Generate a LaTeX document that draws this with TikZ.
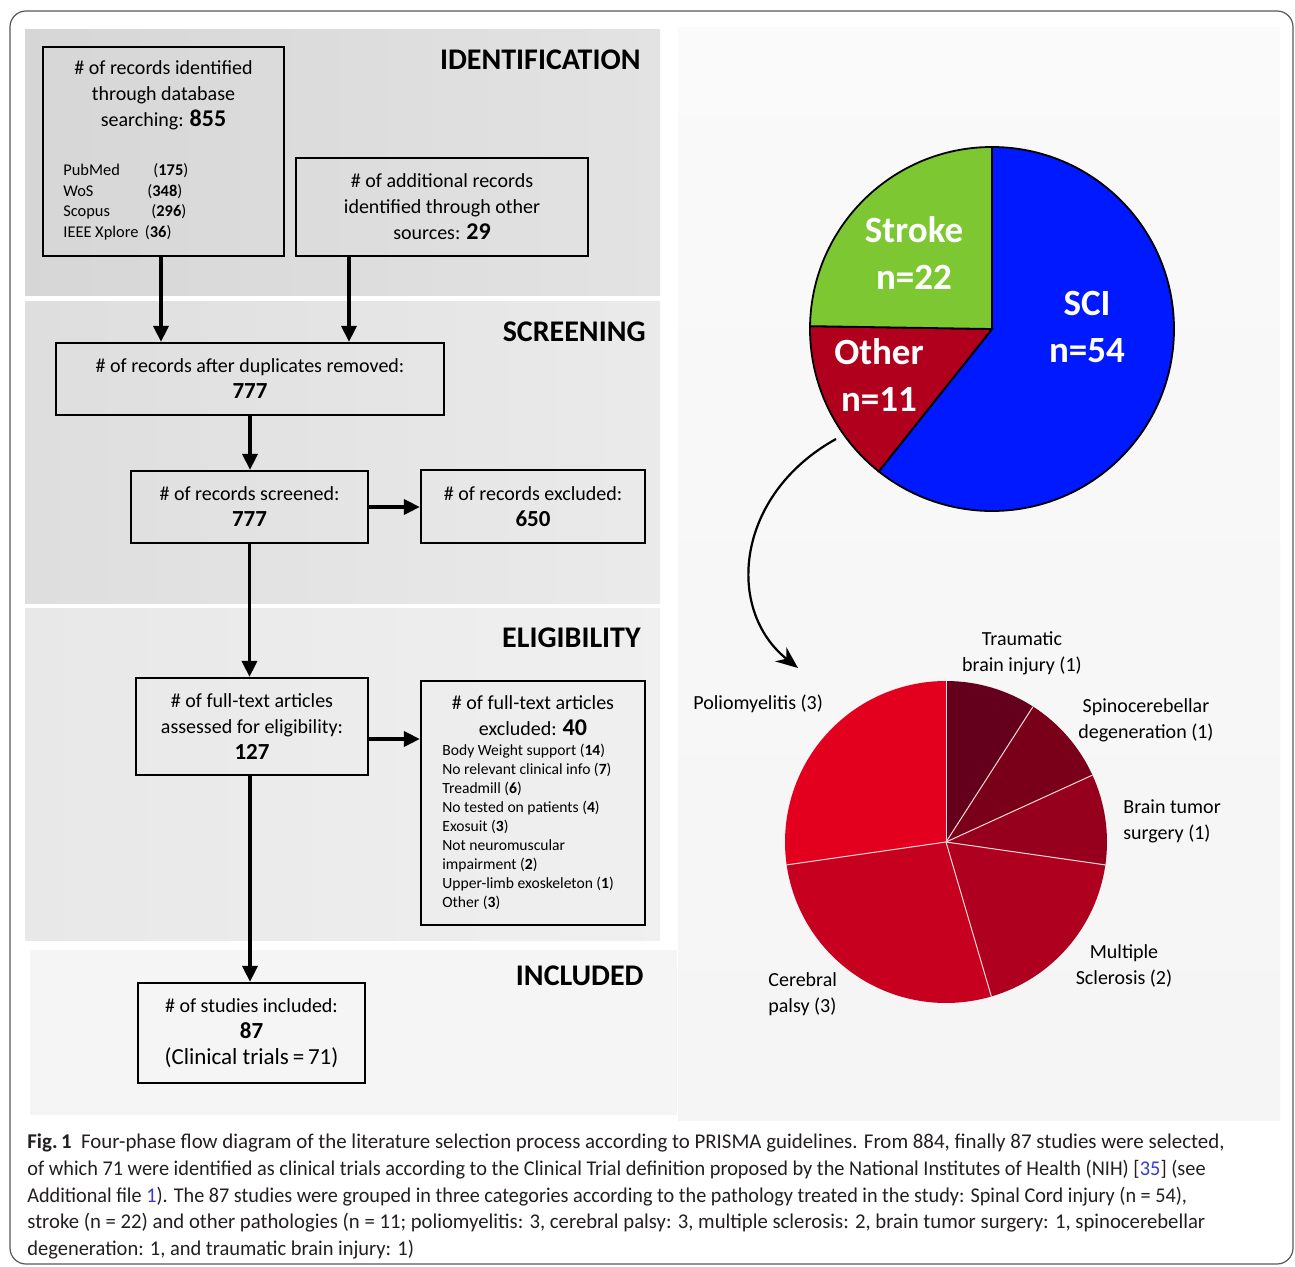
\documentclass[tikz,border=0pt]{standalone}
\usepackage{fontspec}
\usepackage{graphicx}
\setmainfont{Carlito}
\usetikzlibrary{arrows.meta}
\definecolor{sciblue}{HTML}{0019FF}
\definecolor{strokegreen}{HTML}{7DC832}
\definecolor{otherred}{HTML}{B0001E}
\definecolor{tbi}{HTML}{64001C}
\definecolor{spino}{HTML}{7A0019}
\definecolor{btumor}{HTML}{96001C}
\definecolor{msred}{HTML}{AF001F}
\definecolor{cpred}{HTML}{C8001F}
\definecolor{polio}{HTML}{E2001E}
\definecolor{capgray}{HTML}{231F20}
\definecolor{linkblue}{HTML}{3A3AD0}
\newcommand\boxfont{\fontsize{10}{13}\selectfont}
\newcommand\lstfont{\fontsize{7.8}{9.5}\selectfont}
\newcommand\dbfont{\fontsize{8.2}{10.25}\selectfont}
\newcommand\bignum{\fontsize{11.5}{13}\selectfont\bfseries}
\newcommand\capfont{\fontsize{10.5}{13.5}\selectfont}
\tikzset{
  box/.style={draw=black, line width=1.1pt, align=center, inner sep=0pt, font=\boxfont},
  arr/.style={line width=1.6pt, -{Triangle[length=8pt,width=7.5pt]}},
  sect/.style={font=\fontsize{15}{18}\selectfont\bfseries, anchor=east, inner sep=0pt},
  pielab/.style={font=\fontsize{18.5}{23.5}\selectfont\bfseries, text=white, align=center, inner sep=0pt},
  slab/.style={font=\fontsize{10}{13}\selectfont, align=center, inner sep=0pt},
  capline/.style={font=\capfont, text=capgray, anchor=base west, inner sep=0pt},
  sep/.style={draw=white!85!red, line width=0.5pt}
}
\begin{document}
\begin{tikzpicture}[x=0.5pt,y=-0.5pt]
\useasboundingbox (0,0) rectangle (1295,1267);
\fill[white] (0,0) rectangle (1295,1267);
% outer frame
\draw[draw=black!65, line width=0.6pt, rounded corners=8pt] (10,11) rectangle (1293,1264);
% bands
\shade[left color=black!16, right color=black!11] (25,30) rectangle (660,296);
\shade[left color=black!13, right color=black!8] (25,302) rectangle (660,603);
\shade[left color=black!9, right color=black!6] (25,608) rectangle (660,940);
\fill[black!4] (30,950) rectangle (677,1115);
\shade[top color=black!2, bottom color=black!4] (678,28) rectangle (1280,1120);

% section labels
\node[sect] (lident) at (641,60) {IDENTIFICATION};
\node[sect] (lscreen) at (646,332) {SCREENING};
\node[sect] (lelig) at (641,638) {ELIGIBILITY};
\node[sect] (lincl) at (644,976) {INCLUDED};

% boxes
\node[box, minimum width=120.5pt, minimum height=104.5pt] (A) at (163.5,151.5) {};
\node[align=center, font=\boxfont, inner sep=0pt] (Atxt) at (163.5,95) {\# of records identified\\through database\\searching: {\bignum\fontsize{12}{13}\selectfont 855}};
\node[anchor=west, align=left, font=\dbfont, inner sep=0pt] (Alist) at (63,202)
 {\makebox[45pt][l]{PubMed}(\textbf{175})\\
  \makebox[42pt][l]{WoS}(\textbf{348})\\
  \makebox[44pt][l]{Scopus}(\textbf{296})\\
  IEEE Xplore\ \,(\textbf{36})};
\node[box, minimum width=146pt, minimum height=49pt] (B) at (442,207)
 {\# of additional records\\identified through other\\sources: {\bignum\fontsize{12}{13}\selectfont 29}};
\node[box, minimum width=194pt, minimum height=36pt] (C) at (250,379)
 {\# of records after duplicates removed:\\{\bignum 777}};
\node[box, minimum width=118.5pt, minimum height=36pt] (D) at (249.5,507)
 {\# of records screened:\\{\bignum 777}};
\node[box, minimum width=112pt, minimum height=36.5pt] (E) at (533,506.5)
 {\# of records excluded:\\{\bignum 650}};
\node[box, minimum width=116pt, minimum height=48.5pt] (F) at (252,726.5)
 {\# of full-text articles\\assessed for eligibility:\\{\bignum 127}};
\node[box, minimum width=112pt, minimum height=122pt] (G) at (533,803) {};
\node[align=center, font=\boxfont, inner sep=0pt] (Gtxt) at (533,716) {\# of full-text articles\\excluded: {\bignum\fontsize{12}{13}\selectfont 40}};
\node[anchor=north west, align=left, font=\lstfont, inner sep=0pt] (Glist) at (442,744)
 {Body Weight support (\textbf{14})\\
  No relevant clinical info (\textbf{7})\\
  Treadmill (\textbf{6})\\
  No tested on patients (\textbf{4})\\
  Exosuit (\textbf{3})\\
  Not neuromuscular\\
  impairment (\textbf{2})\\
  Upper-limb exoskeleton (\textbf{1})\\
  Other (\textbf{3})};
\node[box, minimum width=113.5pt, minimum height=50pt] (H) at (251.5,1033)
 {\# of studies included:\\{\bignum 87}\\{\fontsize{11.5}{13}\selectfont (Clinical trials\,=\,71)}};

% connectors
\coordinate (aout) at ([xshift=-1.25pt]A.south);
\draw[arr] (aout) -- (aout |- C.north);
\coordinate (bout) at ([xshift=-46.5pt]B.south);
\draw[arr] (bout) -- (bout |- C.north);
\draw[arr] (C.south) -- (C.south |- D.north);
\draw[arr] (D.east) -- (D.east -| E.west);
\draw[arr] (D.south) -- (D.south |- F.north);
\coordinate (fout) at ([yshift=-6.25pt]F.east);
\draw[arr] (fout) -- (fout -| G.west);
\coordinate (fdown) at ([xshift=-1pt]F.south);
\draw[arr] (fdown) -- (fdown |- H.north);

% main pie
\begin{scope}[shift={(992,329)}, x=0.5pt, y=0.5pt]
  \filldraw[fill=sciblue, draw=black, line width=0.9pt] (0,0) -- (90:182) arc[start angle=90, end angle=-128.5, radius=182] -- cycle;
  \filldraw[fill=otherred, draw=black, line width=0.9pt] (0,0) -- (-128.5:182) arc[start angle=-128.5, end angle=-180.9, radius=182] -- cycle;
  \filldraw[fill=strokegreen, draw=black, line width=0.9pt] (0,0) -- (179.1:182) arc[start angle=179.1, end angle=90, radius=182] -- cycle;
\end{scope}
\node[pielab] (pstroke) at (914,253) {Stroke\\n=22};
\node[pielab] (psci) at (1087,327) {SCI\\n=54};
\node[pielab] (pother) at (879,375) {Other\\n=11};
\coordinate (cstart) at (836,439);
\coordinate (cend) at (798,668);
\draw[line width=1.1pt, -{Stealth[length=11pt,width=9pt]}] (cstart) .. controls (735,495) and (725,610) .. (cend);

% other pie
\begin{scope}[shift={(946,842)}, x=0.5pt, y=0.5pt]
  \fill[tbi] (0,0) -- (90:161) arc[start angle=90, end angle=57.27, radius=161] -- cycle;
  \fill[spino] (0,0) -- (57.27:161) arc[start angle=57.27, end angle=24.55, radius=161] -- cycle;
  \fill[btumor] (0,0) -- (24.55:161) arc[start angle=24.55, end angle=-8.18, radius=161] -- cycle;
  \fill[msred] (0,0) -- (-8.18:161) arc[start angle=-8.18, end angle=-73.64, radius=161] -- cycle;
  \fill[cpred] (0,0) -- (-73.64:161) arc[start angle=-73.64, end angle=-171.82, radius=161] -- cycle;
  \fill[polio] (0,0) -- (-171.82:161) arc[start angle=-171.82, end angle=-270, radius=161] -- cycle;
  \foreach \a in {90,57.27,24.55,-8.18,-73.64,-171.82} \draw[sep] (0,0) -- (\a:161);
\end{scope}
\node[slab] (ltbi) at (1022,653) {Traumatic\\brain injury (1)};
\node[slab] (lspino) at (1146,720) {Spinocerebellar\\degeneration (1)};
\node[slab, align=left, anchor=west] (lbt) at (1123,821) {Brain tumor\\surgery (1)};
\node[slab] (lms) at (1124,966) {Multiple\\Sclerosis (2)};
\node[slab, align=left, anchor=west] (lcp) at (768,994) {Cerebral\\palsy (3)};
\node[slab, anchor=west] (lpolio) at (693,704) {Poliomyelitis (3)};

% caption
\node[capline] (cap1) at (27,1148) {\scalebox{0.995}[1]{\textbf{Fig.\,1}\ \ Four-phase flow diagram of the literature selection process according to PRISMA guidelines. From 884, finally 87 studies were selected,}};
\node[capline] (cap2) at (27,1175) {\scalebox{0.967}[1]{of which 71 were identified as clinical trials according to the Clinical Trial definition proposed by the National Institutes of Health (NIH) [\textcolor{linkblue}{35}] (see}};
\node[capline] (cap3) at (27,1202) {\scalebox{0.962}[1]{Additional file \textcolor{linkblue}{1}). The 87 studies were grouped in three categories according to the pathology treated in the study: Spinal Cord injury (n = 54),}};
\node[capline] (cap4) at (27,1228) {\scalebox{0.987}[1]{stroke (n = 22) and other pathologies (n = 11; poliomyelitis: 3, cerebral palsy: 3, multiple sclerosis: 2, brain tumor surgery: 1, spinocerebellar}};
\node[capline] (cap5) at (27,1255) {\scalebox{0.975}[1]{degeneration: 1, and traumatic brain injury: 1)}};
\end{tikzpicture}
\end{document}
